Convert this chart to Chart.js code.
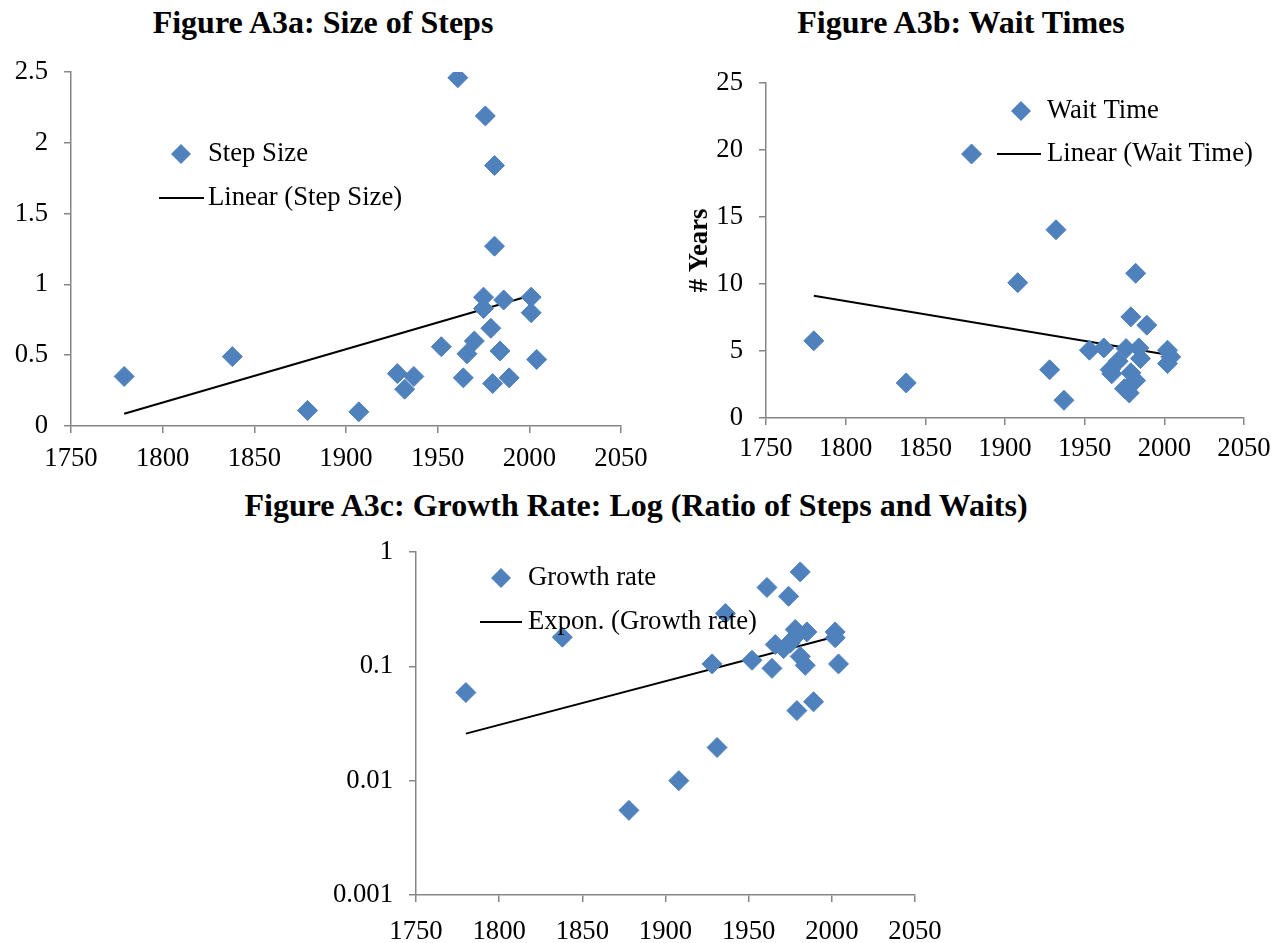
<!DOCTYPE html>
<html>
<head>
<meta charset="utf-8">
<script src="https://cdn.jsdelivr.net/npm/chart.js@4.4.0/dist/chart.umd.min.js"></script>
<style>
  body { margin:0; background:#fff; width:1283px; height:943px; position:relative; overflow:hidden;
         font-family:"Liberation Serif","Times New Roman",serif; }
  .title { position:absolute; font-weight:bold; font-size:32px; line-height:1; white-space:nowrap; transform:translateX(-50%); }
  canvas { position:absolute; }
</style>
</head>
<body>
<div class="title" style="left:323px;top:6px">Figure A3a: Size of Steps</div>
<div class="title" style="left:961px;top:6px">Figure A3b: Wait Times</div>
<div class="title" style="left:636px;top:489px">Figure A3c: Growth Rate: Log (Ratio of Steps and Waits)</div>
<canvas id="chartA" width="670" height="430" style="left:0;top:40px"></canvas>
<canvas id="chartB" width="603" height="430" style="left:680px;top:40px"></canvas>
<canvas id="chartC" width="650" height="423" style="left:320px;top:520px"></canvas>
<script>
// ---- data ----
const stepYears = [1779, 1838, 1879, 1907, 1928, 1932, 1937, 1952, 1961, 1964, 1966, 1970, 1975, 1975, 1976, 1979, 1980, 1981, 1981, 1984, 1986, 1989, 2001, 2001, 2004];
const stepSize  = [0.35, 0.49, 0.11, 0.10, 0.37, 0.26, 0.35, 0.56, 2.46, 0.34, 0.51, 0.60, 0.91, 0.83, 2.19, 0.69, 0.30, 1.84, 1.27, 0.53, 0.89, 0.34, 0.91, 0.80, 0.47];
const stepTrendYears = [1779, 2003];
const stepTrend = [0.087, 0.93];

const waitYears = [1780, 1838, 1879, 1908, 1928, 1932, 1937, 1953, 1962, 1966, 1967, 1971, 1976, 1975, 1978, 1979, 1979, 1982, 1982, 1984, 1985, 1989, 2002, 2002, 2004];
const waitTime  = [5.76, 2.62, 19.7, 10.1, 3.6, 14.05, 1.32, 5.06, 5.23, 3.61, 3.3, 4.24, 5.18, 2.19, 1.87, 7.55, 3.37, 10.8, 2.8, 5.23, 4.44, 6.93, 5.06, 4.06, 4.56];
const waitTrendYears = [1780, 2004];
const waitTrend = [9.12, 4.69];

const growthYears = [1780, 1838, 1878, 1908, 1928, 1931, 1936, 1952, 1961, 1964, 1966, 1971, 1974, 1975, 1977, 1978, 1979, 1981, 1981, 1984, 1985, 1989, 2002, 2002, 2004];
const growthRate  = [0.059, 0.18, 0.0055, 0.01, 0.105, 0.0195, 0.29, 0.113, 0.49, 0.096, 0.155, 0.143, 0.41, 0.16, 0.175, 0.21, 0.041, 0.67, 0.122, 0.102, 0.2, 0.049, 0.2, 0.178, 0.105];
const growthTrendYears = [1780, 2004];
const growthTrend = [0.0258, 0.185];

const xTicks = [1750, 1800, 1850, 1900, 1950, 2000, 2050];
const growthTicks = [0.001, 0.01, 0.1, 1];

// ---- styling ----
const blue = '#4F81BD';
const axisGrey = '#868686';
const serif = '"Liberation Serif", "Times New Roman", serif';
const tickFont = { family: serif, size: 26.7 };

const pts = (xs, ys) => xs.map((x, i) => ({ x: x, y: ys[i] }));

// legend drawn inside the plot, like the Excel original
const insideLegend = {
  id: 'insideLegend',
  afterDraw(chart, args, o) {
    const ctx = chart.ctx, ds = chart.data.datasets;
    ctx.save();
    ctx.fillStyle = blue;
    ctx.beginPath();
    ctx.moveTo(o.mx - 10, o.y1); ctx.lineTo(o.mx, o.y1 - 10);
    ctx.lineTo(o.mx + 10, o.y1); ctx.lineTo(o.mx, o.y1 + 10);
    ctx.closePath(); ctx.fill();
    ctx.strokeStyle = '#000'; ctx.lineWidth = 2;
    ctx.beginPath(); ctx.moveTo(o.lx0, o.y2); ctx.lineTo(o.lx1, o.y2); ctx.stroke();
    ctx.fillStyle = '#000';
    ctx.font = '26.7px ' + serif;
    ctx.textBaseline = 'middle';
    ctx.textAlign = 'left';
    ctx.fillText(ds[0].label, o.tx, o.y1);
    ctx.fillText(ds[1].label, o.tx, o.y2);
    ctx.restore();
  }
};

function xScale(h, pad) {
  return {
    type: 'linear', min: 1750, max: 2050,
    afterBuildTicks: s => { s.ticks = xTicks.map(v => ({ value: v })); },
    afterFit: s => { s.height = h; },
    ticks: { color: '#000', font: tickFont, padding: pad, maxRotation: 0, autoSkip: false, callback: v => String(v) },
    grid: { drawOnChartArea: false, tickLength: 7, color: axisGrey, lineWidth: 1.5 },
    border: { color: axisGrey, width: 1.5 }
  };
}

function yScale(w, extra) {
  return Object.assign({
    type: 'linear',
    afterFit: s => { s.width = w; },
    ticks: { color: '#000', font: tickFont, padding: 16, callback: v => String(v) },
    grid: { drawOnChartArea: false, tickLength: 7, color: axisGrey, lineWidth: 1.5 },
    border: { color: axisGrey, width: 1.5 }
  }, extra);
}

function makeChart(id, scatterLabel, xs, ys, trendLabel, txs, tys, scales, padding, legendPos) {
  return new Chart(document.getElementById(id), {
    type: 'scatter',
    data: {
      datasets: [
        { label: scatterLabel, data: pts(xs, ys), pointStyle: 'rectRot', pointRadius: 10, pointHoverRadius: 10,
          backgroundColor: blue, borderColor: blue, borderWidth: 1 },
        { label: trendLabel, data: pts(txs, tys), showLine: true, pointRadius: 0,
          borderColor: '#000', borderWidth: 2, fill: false }
      ]
    },
    options: {
      responsive: false, animation: false,
      layout: { padding: padding },
      scales: scales,
      plugins: { legend: { display: false }, tooltip: { enabled: false }, insideLegend: legendPos }
    },
    plugins: [insideLegend]
  });
}

makeChart('chartA', 'Step Size', stepYears, stepSize, 'Linear (Step Size)', stepTrendYears, stepTrend,
  { x: xScale(44, 10), y: yScale(71, { min: 0, max: 2.5, ticks: { color: '#000', font: tickFont, padding: 16, stepSize: 0.5, callback: v => String(v) } }) },
  { left: 0, top: 32, right: 49, bottom: 0 },
  { mx: 181, tx: 208, y1: 114, y2: 158, lx0: 159, lx1: 204 });

makeChart('chartB', 'Wait Time', waitYears, waitTime, 'Linear (Wait Time)', waitTrendYears, waitTrend,
  { x: xScale(52, 8), y: yScale(86, { min: 0, max: 25,
      ticks: { color: '#000', font: tickFont, padding: 16, stepSize: 5, callback: v => String(v) },
      title: { display: true, text: '# Years', color: '#000', font: { family: serif, size: 26.7, weight: 'bold' } } }) },
  { left: 0, top: 43, right: 39, bottom: 0 },
  { mx: 341, tx: 367, y1: 71, y2: 114, lx0: 317, lx1: 361 });

makeChart('chartC', 'Growth rate', growthYears, growthRate, 'Expon. (Growth rate)', growthTrendYears, growthTrend,
  { x: xScale(48, 14), y: yScale(96, { type: 'logarithmic', min: 0.001, max: 1,
      afterBuildTicks: s => { s.ticks = growthTicks.map(v => ({ value: v })); } }) },
  { left: 0, top: 31, right: 55, bottom: 0 },
  { mx: 181, tx: 208, y1: 58, y2: 102, lx0: 160, lx1: 202 });
</script>
</body>
</html>
